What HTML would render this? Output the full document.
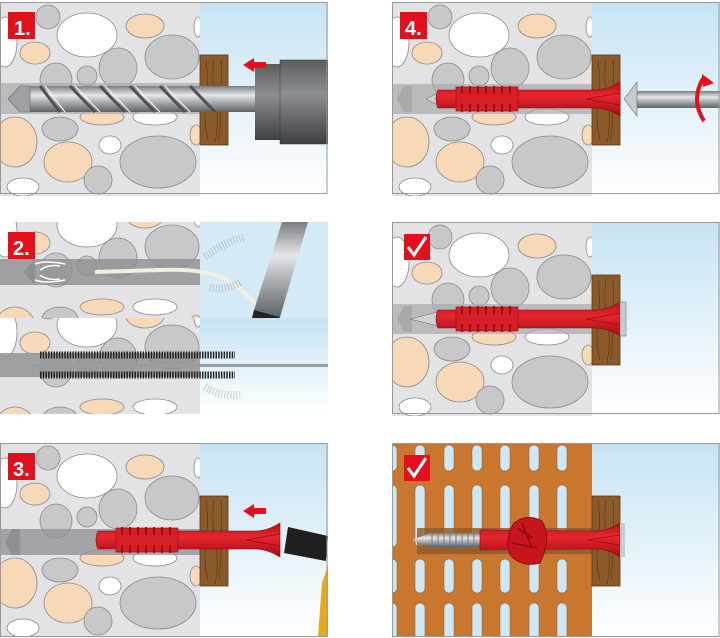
<!DOCTYPE html>
<html><head><meta charset="utf-8"><style>
html,body{margin:0;padding:0;background:#fff;width:720px;height:638px;overflow:hidden}
svg{display:block}
text{font-family:"Liberation Sans",sans-serif;font-weight:bold}
</style></head><body>
<svg width="720" height="638" viewBox="0 0 720 638" xmlns="http://www.w3.org/2000/svg">
<defs>
<clipPath id="cp"><rect x="0" y="0" width="328" height="194"/></clipPath>
<clipPath id="cpTop"><rect x="0" y="0" width="328" height="96"/></clipPath>
<clipPath id="cpBot"><rect x="0" y="96" width="328" height="96"/></clipPath>
<linearGradient id="sky" x1="0" y1="0" x2="0" y2="1">
<stop offset="0" stop-color="#c6e3f4"/><stop offset="1" stop-color="#ffffff"/>
</linearGradient>
<linearGradient id="steel" x1="0" y1="0" x2="0" y2="1">
<stop offset="0" stop-color="#7a7d80"/><stop offset="0.35" stop-color="#e4e6e8"/><stop offset="0.7" stop-color="#9a9da0"/><stop offset="1" stop-color="#5f6265"/>
</linearGradient>
<linearGradient id="chuck" x1="0" y1="0" x2="0" y2="1">
<stop offset="0" stop-color="#5a5c5f"/><stop offset="0.4" stop-color="#8c8f92"/><stop offset="1" stop-color="#3e4042"/>
</linearGradient>
<linearGradient id="red" x1="0" y1="0" x2="0" y2="1">
<stop offset="0" stop-color="#b3101a"/><stop offset="0.4" stop-color="#e8262e"/><stop offset="1" stop-color="#a30d16"/>
</linearGradient>
<g id="stones" stroke="#8a8a8a" stroke-width="0.8">
<rect x="0" y="0" width="200" height="194" fill="#e3e3e5" stroke="none"/>
<ellipse cx="87" cy="33" rx="30" ry="22" fill="#fff"/>
<ellipse cx="48" cy="15" rx="12" ry="12" fill="#c8c8ca"/>
<ellipse cx="145" cy="24" rx="19" ry="12" fill="#f7d9b8"/>
<ellipse cx="35" cy="51" rx="15" ry="11" fill="#f7d9b8"/>
<ellipse cx="172" cy="55" rx="27" ry="22" fill="#c8c8ca"/>
<ellipse cx="118" cy="66" rx="19" ry="20" fill="#c8c8ca"/>
<ellipse cx="56" cy="78" rx="16" ry="17" fill="#c8c8ca"/>
<ellipse cx="87" cy="74" rx="10" ry="10" fill="#c8c8ca"/>
<ellipse cx="5" cy="40" rx="12" ry="25" fill="#fff"/>
<ellipse cx="15" cy="140" rx="22" ry="25" fill="#f7d9b8"/>
<ellipse cx="60" cy="127" rx="18" ry="12" fill="#c8c8ca"/>
<ellipse cx="158" cy="160" rx="38" ry="26" fill="#c8c8ca"/>
<ellipse cx="68" cy="160" rx="24" ry="20" fill="#f7d9b8"/>
<ellipse cx="110" cy="143" rx="11" ry="9" fill="#fff"/>
<ellipse cx="23" cy="185" rx="16" ry="9" fill="#fff"/>
<ellipse cx="98" cy="178" rx="14" ry="14" fill="#c8c8ca"/>
<ellipse cx="102" cy="115" rx="22" ry="8" fill="#f7d9b8"/>
<ellipse cx="155" cy="115" rx="22" ry="8" fill="#fff"/>
<ellipse cx="196" cy="133" rx="6" ry="10" fill="#f7d9b8"/>
<ellipse cx="198" cy="25" rx="4" ry="10" fill="#fff"/>
</g>
<g id="sky1"><rect x="200" y="0" width="128" height="194" fill="url(#sky)"/></g>
<g id="wood">
<rect x="200" y="53" width="28" height="90" fill="#8a5a2b" stroke="#5a3a1a" stroke-width="0.8"/>
<path d="M206 58 q3 20 0 40 q-3 20 2 40 M214 56 q-3 25 2 45 q3 20 -1 40 M221 58 q2 30 -2 80" stroke="#5e3a17" stroke-width="0.7" fill="none"/>
</g>
<g id="plug">
<path d="M2 88 L155 88 Q170 89 184 80 L184 114 Q170 105 155 106 L2 106 Q-2 97 2 88Z" fill="url(#red)" stroke="#8a0b12" stroke-width="0.6"/>
<rect x="20" y="85" width="62" height="24" fill="#d81e26" stroke="#8a0b12" stroke-width="0.6"/>
<path d="M26 84 v8 M34 84 v8 M42 84 v8 M50 84 v8 M58 84 v8 M66 84 v8 M74 84 v8 M26 102 v8 M34 102 v8 M42 102 v8 M50 102 v8 M58 102 v8 M66 102 v8 M74 102 v8" stroke="#9a0d15" stroke-width="2"/>
<path d="M150 97 L184 91 M150 97 L184 103" stroke="#9a0d15" stroke-width="0.8"/>
</g>
<g id="larrow"><path d="M243 63 L254 56 L254 60 L266 60 L266 66 L254 66 L254 70Z" fill="#e3101c"/></g>
<g id="badgebg"><rect x="8" y="10" width="27" height="27" fill="#e3101c"/></g>
<g id="check"><rect x="12" y="12" width="26" height="26" fill="#e3101c"/><path d="M16 25 L22 33 L34 15" stroke="#fff" stroke-width="3" fill="none"/></g>
</defs>

<!-- Panel 1 -->
<g transform="translate(0,2)"><g clip-path="url(#cp)">
<use href="#stones"/><use href="#sky1"/>
<rect x="0" y="81" width="200" height="31" fill="#a8a9ab" opacity="0.7"/>
<use href="#wood"/>
<rect x="20" y="84" width="235" height="26" fill="url(#steel)"/>
<path d="M8 97 L20 84 L30 84 L30 110 L20 110Z" fill="#9ea0a3" stroke="#666" stroke-width="0.6"/>
<path d="M40 84 L60 110 M70 84 L95 110 M100 84 L125 110 M130 84 L155 110 M160 84 L185 110 M190 84 L215 110" stroke="#4e5153" stroke-width="3"/>
<path d="M45 84 L65 110 M75 84 L100 110 M105 84 L130 110 M135 84 L160 110 M165 84 L190 110" stroke="#f4f4f4" stroke-width="1.2"/>
<rect x="255" y="62" width="73" height="76" fill="url(#chuck)"/>
<rect x="280" y="58" width="48" height="84" fill="url(#chuck)" stroke="#333" stroke-width="0.5"/>
<use href="#larrow"/>
<use href="#badgebg"/>
<text x="14" y="33" fill="#fff" font-size="20">1.</text>
</g>
<rect x="0.5" y="0.5" width="326.5" height="191" fill="none" stroke="#999"/>
</g>

<!-- Panel 2 -->
<g transform="translate(0,222)">
<g clip-path="url(#cpTop)">
<use href="#stones" transform="translate(0,-30)"/>
<rect x="200" y="0" width="128" height="96" fill="#d4eaf6"/>
<rect x="0" y="37" width="200" height="26" fill="#8e8f91" opacity="0.8"/>
<path d="M24 50 L35 37 L35 63Z" fill="#8e8f91"/>
<path d="M35 42 q10 -4 30 0 M35 58 q10 4 30 0 M40 48 q8 -6 20 -4 M40 53 q8 6 20 4" stroke="#fff" stroke-width="1.5" fill="none"/>
<path d="M95 50 L160 48 Q210 46 230 60 Q255 78 260 88" stroke="#f3eee0" stroke-width="4" fill="none"/>
<path d="M205 35 q20 -15 40 -20 M210 65 q15 5 30 -5" stroke="#aaa" stroke-width="8" stroke-dasharray="1 2" fill="none" opacity="0.6"/>
<path d="M282 0 L308 0 L280 95 L254 88Z" fill="url(#steel)"/>
<path d="M254 88 L280 95 L278 102 L252 96Z" fill="#222"/>
<use href="#badgebg"/>
<text x="13" y="33" fill="#fff" font-size="20">2.</text>
</g>
<g clip-path="url(#cpBot)">
<use href="#stones" transform="translate(0,70)"/>
<rect x="200" y="96" width="128" height="96" fill="url(#sky)"/>
<rect x="0" y="131" width="200" height="24" fill="#8e8f91" opacity="0.8"/>
<path d="M40 133 h195 M40 153 h195" stroke="#222" stroke-width="7" stroke-dasharray="1.5 1.2"/>
<rect x="30" y="142" width="298" height="3" fill="#9a9c9e"/>
<path d="M205 165 q15 10 35 8" stroke="#aaa" stroke-width="8" stroke-dasharray="1 2" fill="none" opacity="0.6"/>
</g>
</g>

<!-- Panel 3 -->
<g transform="translate(0,443)"><g clip-path="url(#cp)">
<use href="#stones"/><use href="#sky1"/>
<rect x="0" y="86" width="200" height="26" fill="#8e8f91" opacity="0.75"/>
<path d="M5 99 L12 86 L20 86 L20 112 L12 112Z" fill="#8e8f91"/>
<use href="#wood"/>
<use href="#plug" transform="translate(96,0)"/>
<use href="#larrow" transform="translate(0,5)"/>
<path d="M288 84 L328 93 L326 118 L284 110Z" fill="#1f1f1f"/>
<path d="M322 140 L328 122 L328 194 L318 194Z" fill="#e9a91c"/>
<use href="#badgebg"/>
<text x="13" y="33" fill="#fff" font-size="20">3.</text>
</g>
<rect x="0.5" y="0.5" width="326.5" height="193" fill="none" stroke="#999"/>
</g>

<!-- Panel 4 -->
<g transform="translate(392,2)"><g clip-path="url(#cp)">
<use href="#stones"/><use href="#sky1"/>
<rect x="0" y="82" width="200" height="30" fill="#a8a9ab" opacity="0.7"/>
<path d="M5 97 L12 84 L20 84 L20 110 L12 110Z" fill="#a8a9ab"/>
<use href="#wood"/>
<path d="M34 97 L46 91 L46 103Z" fill="#d0d2d4" stroke="#666" stroke-width="0.5"/>
<use href="#plug" transform="translate(44,0)"/>
<rect x="240" y="89" width="88" height="17" fill="url(#steel)"/>
<path d="M232 97 L245 80 L245 114Z" fill="#c8cacc" stroke="#666" stroke-width="0.6"/>
<path d="M312 75 q-14 22 0 44" stroke="#e3101c" stroke-width="4" fill="none"/>
<path d="M310 72 l12 9 l-11 4Z" fill="#e3101c"/>
<use href="#badgebg"/>
<text x="13" y="33" fill="#fff" font-size="20">4.</text>
</g>
<rect x="0.5" y="0.5" width="326.5" height="191" fill="none" stroke="#999"/>
</g>

<!-- Panel 5 -->
<g transform="translate(392,222)"><g clip-path="url(#cp)">
<use href="#stones"/><use href="#sky1"/>
<rect x="0" y="82" width="200" height="30" fill="#a8a9ab" opacity="0.7"/>
<path d="M5 97 L12 84 L20 84 L20 110 L12 110Z" fill="#a8a9ab"/>
<use href="#wood"/>
<path d="M18 97 L46 90 L46 104Z" fill="#d0d2d4" stroke="#666" stroke-width="0.5"/>
<use href="#plug" transform="translate(44,0)"/>
<path d="M228 80 L234 80 L234 114 L228 114Z" fill="#c8cacc" stroke="#666" stroke-width="0.5"/>
<use href="#check"/>
</g>
<rect x="0.5" y="0.5" width="326.5" height="191" fill="none" stroke="#999"/>
</g>

<!-- Panel 6 -->
<g transform="translate(392,443)"><g clip-path="url(#cp)">
<rect x="0" y="0" width="200" height="194" fill="#c9762f"/>
<use href="#sky1"/>
<g fill="#cfe6f4" stroke="#8a5a2b" stroke-width="0.5">
<rect x="-5" y="2" width="10" height="26" rx="5"/><rect x="23" y="2" width="10" height="26" rx="5"/><rect x="52" y="2" width="10" height="26" rx="5"/><rect x="80" y="2" width="10" height="26" rx="5"/><rect x="108" y="2" width="10" height="26" rx="5"/><rect x="137" y="2" width="10" height="26" rx="5"/><rect x="165" y="2" width="10" height="26" rx="5"/>
<rect x="-5" y="42" width="10" height="62" rx="5"/><rect x="23" y="42" width="10" height="62" rx="5"/><rect x="52" y="42" width="10" height="62" rx="5"/><rect x="80" y="42" width="10" height="62" rx="5"/><rect x="108" y="42" width="10" height="62" rx="5"/><rect x="137" y="42" width="10" height="62" rx="5"/><rect x="165" y="42" width="10" height="62" rx="5"/>
<rect x="-5" y="116" width="10" height="34" rx="5"/><rect x="23" y="116" width="10" height="34" rx="5"/><rect x="52" y="116" width="10" height="34" rx="5"/><rect x="80" y="116" width="10" height="34" rx="5"/><rect x="108" y="116" width="10" height="34" rx="5"/><rect x="137" y="116" width="10" height="34" rx="5"/><rect x="165" y="116" width="10" height="34" rx="5"/>
<rect x="-5" y="160" width="10" height="40" rx="5"/><rect x="23" y="160" width="10" height="40" rx="5"/><rect x="52" y="160" width="10" height="40" rx="5"/><rect x="80" y="160" width="10" height="40" rx="5"/><rect x="108" y="160" width="10" height="40" rx="5"/><rect x="137" y="160" width="10" height="40" rx="5"/><rect x="165" y="160" width="10" height="40" rx="5"/>
</g>
<rect x="25" y="85" width="175" height="26" fill="#8a5a2b" opacity="0.8"/>
<use href="#wood"/>
<path d="M20 97 L38 90 L90 90 L90 104 L38 104Z" fill="url(#steel)"/>
<path d="M40 90 v14 M46 90 v14 M52 90 v14 M58 90 v14 M64 90 v14 M70 90 v14 M76 90 v14 M82 90 v14" stroke="#777" stroke-width="1"/>
<path d="M88 87 L200 88 Q215 89 228 80 L228 114 Q215 105 200 106 L88 107Z" fill="url(#red)" stroke="#8a0b12" stroke-width="0.6"/>
<path d="M122 80 Q135 70 150 78 Q160 95 148 120 Q130 125 118 112 Q112 95 122 80Z" fill="#c8141d" stroke="#7a0a10" stroke-width="0.8"/>
<path d="M125 85 l15 10 M130 80 l10 25 M120 100 l25 5" stroke="#8a0b12" stroke-width="1.5"/>
<path d="M195 97 L228 92 M195 97 L228 102" stroke="#9a0d15" stroke-width="0.8"/>
<rect x="228" y="80" width="5" height="34" fill="#c8cacc"/>
<use href="#check"/>
</g>
<rect x="0.5" y="0.5" width="326.5" height="193" fill="none" stroke="#999"/>
</g>
</svg>
</body></html>
